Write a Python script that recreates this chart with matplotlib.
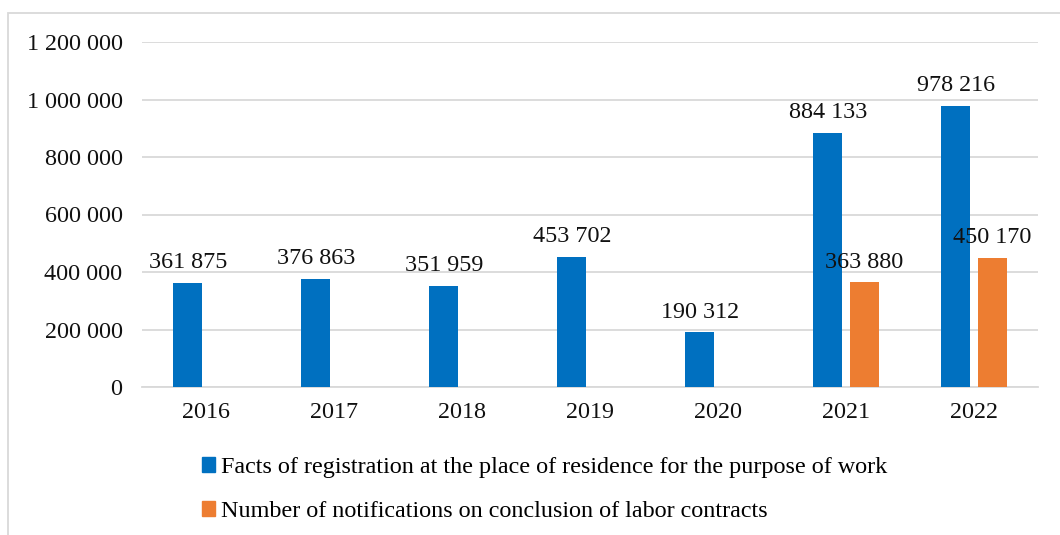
import numpy as np
import matplotlib.pyplot as plt
from matplotlib.patches import Rectangle, Patch

# ---------------------------------------
# Data
# ---------------------------------------

years = ["2016", "2017", "2018", "2019", "2020", "2021", "2022"]

registrations = [361875, 376863, 351959, 453702, 190312, 884133, 978216]

# notifications only available for 2021 and 2022
notifications = [None, None, None, None, None, 363880, 450170]

reg_label = "Facts of registration at the place of residence for the purpose of work"
not_label = "Number of notifications on conclusion of labor contracts"

blue = "#0070C0"
orange = "#ED7D31"

plt.rcParams["font.family"] = ["Liberation Serif", "DejaVu Serif"]


def fmt(v):
    return f"{v:,}".replace(",", " ")


# ---------------------------------------
# Plot
# ---------------------------------------

fig = plt.figure(figsize=(10.6, 5.35), dpi=100)
ax = fig.add_axes([142 / 1060, 1 - 387 / 535, (1038 - 142) / 1060, (387 - 42) / 535])

x = np.arange(len(years))
width = 0.227
offset = 0.142
fs = 17.4

ax.bar(x - offset, registrations, width, color=blue, zorder=3)

for i, v in enumerate(registrations):
    ax.annotate(fmt(v), (x[i] - offset, v), xytext=(0, 7), textcoords="offset points",
                ha="center", va="bottom", fontsize=fs, color="#111111")

n_idx = [i for i, v in enumerate(notifications) if v is not None]
n_val = [notifications[i] for i in n_idx]
ax.bar(x[n_idx] + offset, n_val, width, color=orange, zorder=3)

for i, v in zip(n_idx, n_val):
    ax.annotate(fmt(v), (x[i] + offset, v), xytext=(0, 7), textcoords="offset points",
                ha="center", va="bottom", fontsize=fs, color="#111111")

ax.set_xlim(-0.5, len(years) - 0.5)
ax.set_ylim(0, 1200000)
ax.set_yticks(np.arange(0, 1200001, 200000))
ax.set_yticklabels([fmt(v) for v in range(0, 1200001, 200000)], fontsize=fs)
ax.set_xticks(x)
ax.set_xticklabels(years, fontsize=fs)

ax.grid(axis="y", color="#D9D9D9", linewidth=1.3, zorder=0)
for s in ["top", "right", "left"]:
    ax.spines[s].set_visible(False)
ax.spines["bottom"].set_color("#D9D9D9")
ax.spines["bottom"].set_linewidth(1.3)
ax.tick_params(axis="both", length=0, colors="#111111")
ax.tick_params(axis="y", pad=14)
ax.tick_params(axis="x", pad=11)

# chart border
fig.patches.append(Rectangle((8 / 1060, -0.1), 1.2, 1 - 13 / 535 + 0.1,
                             transform=fig.transFigure, fill=False,
                             edgecolor="#D9D9D9", linewidth=1.3))

handles = [Patch(color=blue, label=reg_label), Patch(color=orange, label=not_label)]
fig.legend(handles=handles, loc="upper left", bbox_to_anchor=(202 / 1060, 1 - 457 / 535),
           frameon=False, fontsize=fs, handlelength=0.55, handleheight=0.55,
           handletextpad=0.25, labelspacing=0.95, borderaxespad=0, borderpad=0)

plt.savefig("out.png", dpi=100)
